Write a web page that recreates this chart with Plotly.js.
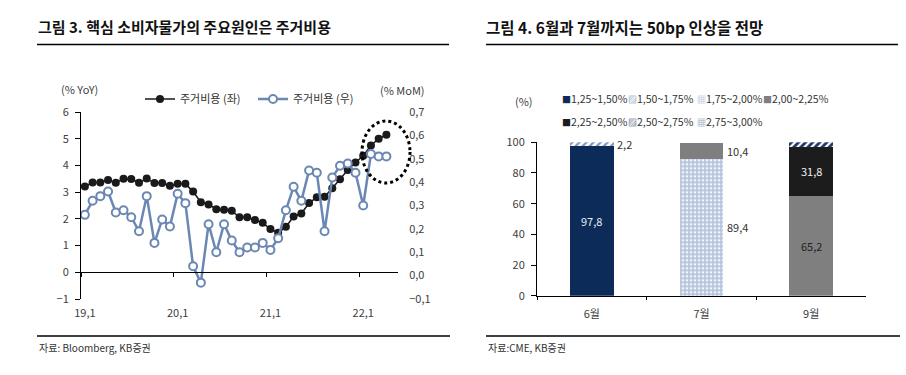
<!DOCTYPE html>
<html><head><meta charset="utf-8">
<script src="https://cdn.plot.ly/plotly-3.0.1.min.js"></script>
<style>html,body{margin:0;padding:0;background:#fff}#chart{width:906px;height:375px}</style>
</head><body><div id="chart"></div>
<script>
// ---------- Left chart data (그림 3) ----------
const months = ['19.1','19.2','19.3','19.4','19.5','19.6','19.7','19.8','19.9','19.10','19.11','19.12',
                '20.1','20.2','20.3','20.4','20.5','20.6','20.7','20.8','20.9','20.10','20.11','20.12',
                '21.1','21.2','21.3','21.4','21.5','21.6','21.7','21.8','21.9','21.10','21.11','21.12',
                '22.1','22.2','22.3','22.4'];
const housingYoY = [3.21,3.36,3.36,3.45,3.35,3.50,3.49,3.35,3.51,3.34,3.34,3.24,
                    3.31,3.31,3.02,2.62,2.54,2.36,2.34,2.30,2.06,2.06,1.96,1.85,
                    1.62,1.48,1.70,2.09,2.20,2.59,2.81,2.83,3.15,3.48,3.83,4.11,
                    4.36,4.75,5.00,5.15];
const housingMoM = [0.26,0.32,0.34,0.36,0.27,0.28,0.25,0.19,0.34,0.14,0.24,0.21,
                    0.35,0.31,0.04,-0.03,0.22,0.10,0.22,0.15,0.10,0.12,0.12,0.14,
                    0.11,0.16,0.28,0.38,0.32,0.45,0.44,0.19,0.42,0.47,0.48,0.44,
                    0.30,0.52,0.51,0.51];
const xTickVals = ['19.1','20.1','21.1','22.1'];
const xTickText = ['19,1','20,1','21,1','22,1'];
const seriesNames = ['주거비용 (좌)','주거비용 (우)'];

// ---------- Right chart data (그림 4) ----------
const meetings = ['6월','7월','9월'];
const rateBins = ['1,25~1,50%','1,50~1,75%','1,75~2,00%','2,00~2,25%','2,25~2,50%','2,50~2,75%','2,75~3,00%'];
const prob125_150 = [97.8, 0, 0];
const prob150_175 = [2.2, 0, 0];
const prob175_200 = [0, 89.4, 0];
const prob200_225 = [0, 10.4, 65.2];
const prob225_250 = [0, 0, 31.8];
const prob250_275 = [0, 0, 3.0];
const prob275_300 = [0, 0, 0];
const probs = [prob125_150, prob150_175, prob175_200, prob200_225, prob225_250, prob250_275, prob275_300];

// ---------- helpers / styles ----------
const W = 906, H = 375;
const px = x => x / W;
const py = y => 1 - y / H;
const FONT = '"Noto Sans CJK KR", "Noto Sans", sans-serif';

const binStyles = [
  {color:'#0c2b58'},
  {color:'#ffffff', pattern:{shape:'/', fgcolor:'#7d97bf', bgcolor:'#ffffff', size:5, solidity:0.45}, glyph:'▨', gcolor:'#6f88b0'},
  {color:'#bccbe2', pattern:{shape:'.', fgcolor:'#f2f5fa', bgcolor:'#b6c5de', size:4, solidity:0.35}, glyph:'▦', gcolor:'#9aa9c2'},
  {color:'#7f7f7f'},
  {color:'#1c1c1c'},
  {color:'#ffffff', pattern:{shape:'/', fgcolor:'#1d3663', bgcolor:'#ffffff', size:5, solidity:0.55}, glyph:'▨', gcolor:'#1f3a66'},
  {color:'#8797b5', pattern:{shape:'.', fgcolor:'#ffffff', bgcolor:'#8797b5', size:4, solidity:0.35}, glyph:'▦', gcolor:'#6f82a6'}
];

// left chart geometry (pixels)
const L = {x0:81, x1:398, yTop:112, yBot:299};
const yRange = [-1, 6];
const zeroPos = py(L.yBot) + (0 - yRange[0]) / (yRange[1] - yRange[0]) * (py(L.yTop) - py(L.yBot));
// right chart geometry
const R = {x0:537, x1:866, yTop:142.3, yBot:295.7};

const traces = [
  {x: months, y: housingYoY, name: seriesNames[0], type:'scatter', mode:'lines+markers',
   xaxis:'x', yaxis:'y',
   line:{color:'#1a1a1a', width:1.5}, marker:{color:'#1a1a1a', size:8}},
  {x: months, y: housingMoM, name: seriesNames[1], type:'scatter', mode:'lines+markers',
   xaxis:'x2', yaxis:'y2',
   line:{color:'#6b87b3', width:2.5}, marker:{color:'#ffffff', size:8, line:{color:'#6b87b3', width:2}}}
];
probs.forEach((vals, i) => {
  const st = binStyles[i];
  const marker = {color: st.color, line:{width:0}};
  if (st.pattern) marker.pattern = Object.assign({fillmode:'replace'}, st.pattern);
  traces.push({type:'bar', x: meetings, y: vals, name: rateBins[i], xaxis:'x3', yaxis:'y3',
               width:0.4, marker, showlegend:false, hoverinfo:'skip'});
});

const annotations = [];
const shapes = [];
const fmt = v => v.toFixed(1).replace('.', ',');

// titles
annotations.push({text:'<b>그림 3. 핵심 소비자물가의 주요원인은 주거비용</b>', xref:'paper', yref:'paper',
  x:px(36), y:py(27), xanchor:'left', yanchor:'middle', showarrow:false, font:{size:15, color:'#111'}});
annotations.push({text:'<b>그림 4. 6월과 7월까지는 50bp 인상을 전망</b>', xref:'paper', yref:'paper',
  x:px(484), y:py(27), xanchor:'left', yanchor:'middle', showarrow:false, font:{size:15.5, color:'#111'}});
shapes.push({type:'line', xref:'paper', yref:'paper', x0:px(37), x1:px(449), y0:py(44.5), y1:py(44.5), line:{color:'#000', width:1.5}});
shapes.push({type:'line', xref:'paper', yref:'paper', x0:px(486), x1:px(898), y0:py(44.5), y1:py(44.5), line:{color:'#000', width:1.5}});
// footers
shapes.push({type:'line', xref:'paper', yref:'paper', x0:px(37), x1:px(450), y0:py(336), y1:py(336), line:{color:'#000', width:1.5}});
shapes.push({type:'line', xref:'paper', yref:'paper', x0:px(486), x1:px(900), y0:py(336), y1:py(336), line:{color:'#000', width:1.5}});
annotations.push({text:'자료: Bloomberg, KB증권', xref:'paper', yref:'paper', x:px(37), y:py(347),
  xanchor:'left', yanchor:'middle', showarrow:false, font:{size:10, color:'#333'}});
annotations.push({text:'자료:CME, KB증권', xref:'paper', yref:'paper', x:px(486), y:py(347),
  xanchor:'left', yanchor:'middle', showarrow:false, font:{size:10, color:'#333'}});
// axis unit labels
annotations.push({text:'(% YoY)', xref:'paper', yref:'paper', x:px(79), y:py(89), xanchor:'center', yanchor:'middle', showarrow:false, font:{size:11, color:'#404040'}});
annotations.push({text:'(% MoM)', xref:'paper', yref:'paper', x:px(402), y:py(90), xanchor:'center', yanchor:'middle', showarrow:false, font:{size:11, color:'#404040'}});
annotations.push({text:'(%)', xref:'paper', yref:'paper', x:px(524), y:py(101), xanchor:'center', yanchor:'middle', showarrow:false, font:{size:11, color:'#404040'}});

// dotted ellipse highlight
shapes.push({type:'circle', xref:'paper', yref:'paper', x0:px(362), x1:px(410), y0:py(183), y1:py(121),
  line:{color:'#000', width:3, dash:'dot'}, fillcolor:'rgba(0,0,0,0)'});

// right legend (annotations)
const legX = [560, 626, 695, 761];
const legY = [98.5, 122];
rateBins.forEach((name, i) => {
  const st = binStyles[i];
  const glyph = st.glyph || '■';
  const gcol = st.gcolor || st.color;
  annotations.push({text:`<span style="color:${gcol};font-size:9px">${glyph}</span>${name}`, xref:'paper', yref:'paper',
    x:px(legX[i % 4]), y:py(legY[Math.floor(i / 4)]), xanchor:'left', yanchor:'middle', showarrow:false,
    font:{size:10.5, color:'#333'}});
});

// bar value labels
const labelSpecs = [
  {bin:0, cat:0, pos:'in', color:'#e8ecf4'},
  {bin:1, cat:0, pos:'out'},
  {bin:2, cat:1, pos:'out'},
  {bin:3, cat:1, pos:'out'},
  {bin:3, cat:2, pos:'in', color:'#222'},
  {bin:4, cat:2, pos:'in', color:'#f0f0f0'}
];
labelSpecs.forEach(s => {
  let base = 0;
  for (let b = 0; b < s.bin; b++) base += probs[b][s.cat];
  const v = probs[s.bin][s.cat];
  const a = {x: meetings[s.cat], y: base + v / 2, xref:'x3', yref:'y3', text: fmt(v), showarrow:false,
    font:{size:11, color: s.color || '#333'}, yanchor:'middle'};
  if (s.pos === 'out') { a.xanchor = 'left'; a.xshift = 23; }
  else { a.xanchor = 'center'; }
  annotations.push(a);
});

const layout = {
  width: W, height: H, margin:{l:0, r:0, t:0, b:0},
  paper_bgcolor:'#ffffff', plot_bgcolor:'rgba(0,0,0,0)',
  separators: ', ',
  font:{family: FONT, size:11, color:'#404040'},
  barmode:'stack', bargap:0.6,
  showlegend:true,
  legend:{orientation:'h', traceorder:'normal', x:px(140), y:py(99), xanchor:'left', yanchor:'middle',
          font:{size:11, color:'#333'}, bgcolor:'rgba(0,0,0,0)', itemwidth:30,
          entrywidth:68, entrywidthmode:'pixels'},
  xaxis:{domain:[px(L.x0), px(L.x1)], anchor:'y', type:'category', range:[-0.5, 40.5],
         tickmode:'array', tickvals:xTickVals, ticktext:xTickText, showline:false, ticks:'',
         showgrid:false, zeroline:false, ticklabelstandoff:6, tickfont:{size:11}},
  yaxis:{domain:[py(L.yBot), py(L.yTop)], anchor:'x', range:yRange, dtick:1, tick0:0,
         showline:true, linecolor:'#000', linewidth:1, ticks:'outside', ticklen:5, tickcolor:'#000',
         showgrid:false, zeroline:false, ticklabelstandoff:4},
  xaxis2:{overlaying:'x', type:'category', range:[-0.5, 40.5], anchor:'free', position:zeroPos,
          showline:true, linecolor:'#000', linewidth:1, ticks:'outside', ticklen:4, tickcolor:'#000',
          tickson:'boundaries', dtick:12, showticklabels:false, showgrid:false, zeroline:false},
  yaxis2:{overlaying:'y', side:'right', anchor:'x', range:[-0.1, 0.7], dtick:0.1, tick0:0, tickformat:'.1f',
          showline:false, ticks:'outside', ticklen:8, tickcolor:'rgba(0,0,0,0)', showgrid:false, zeroline:false},
  xaxis3:{domain:[px(R.x0), px(R.x1)], anchor:'y3', type:'category', range:[-0.5, 2.5],
          showline:true, linecolor:'#000', linewidth:1, ticks:'outside', ticklen:3, tickcolor:'#000',
          tickson:'boundaries', showgrid:false, zeroline:false, ticklabelstandoff:8},
  yaxis3:{domain:[py(R.yBot), py(R.yTop)], anchor:'x3', range:[0, 100], dtick:20,
          showline:true, linecolor:'#000', linewidth:1, ticks:'outside', ticklen:5, tickcolor:'#000',
          showgrid:false, zeroline:false, ticklabelstandoff:4},
  annotations, shapes
};

Plotly.newPlot('chart', traces, layout, {displayModeBar:false, staticPlot:true});
</script></body></html>
